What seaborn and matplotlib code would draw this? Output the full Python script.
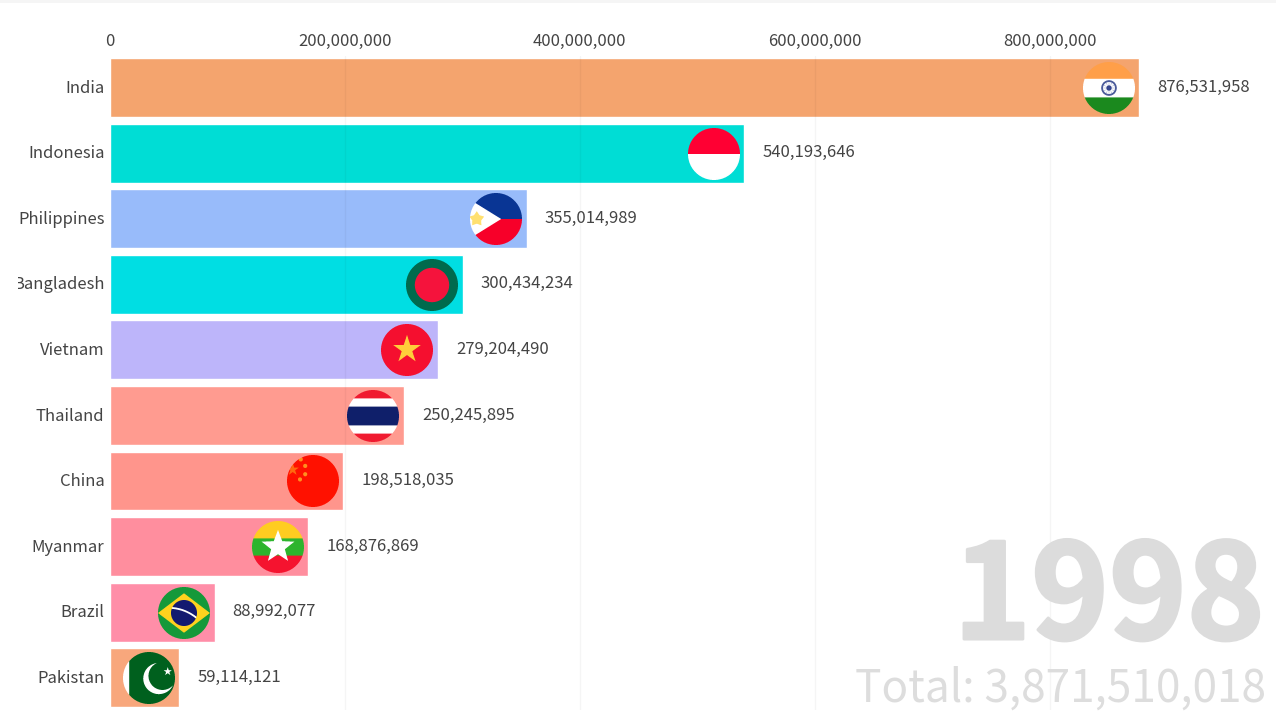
import numpy as np
import pandas as pd
import matplotlib
matplotlib.use("Agg")
import matplotlib.pyplot as plt
import matplotlib.patheffects as pe
from matplotlib.offsetbox import OffsetImage, AnnotationBbox
from matplotlib.patches import Rectangle
from matplotlib.ticker import FuncFormatter
from matplotlib.transforms import ScaledTranslation
import seaborn as sns

countries = ["India", "Indonesia", "Philippines", "Bangladesh", "Vietnam",
             "Thailand", "China", "Myanmar", "Brazil", "Pakistan"]
values = [876531958, 540193646, 355014989, 300434234, 279204490,
          250245895, 198518035, 168876869, 88992077, 59114121]
bar_colors = ["#F4A46E", "#00DDD5", "#98BBFA", "#00DEE3", "#BDB5FA",
              "#FF9B90", "#FF958C", "#FF8E9E", "#FF8EA8", "#F8A77C"]
x_ticks = [0, 200000000, 400000000, 600000000, 800000000]
year_label = "1998"
total_label = "Total: 3,871,510,018"

W, H = 1276, 720
FONT = ["Noto Sans CJK SC", "Noto Sans", "DejaVu Sans"]
TEXT = "#444444"
FLAG_PX = 52
SS = 5


def star(u, v, cx, cy, R, ratio=0.382):
    dx, dy = u - cx, v - cy
    rho = np.hypot(dx, dy)
    th = np.arctan2(dx, dy)
    sector = 2 * np.pi / 5
    th = np.abs((th + sector / 2) % sector - sector / 2)
    x, y = rho * np.cos(th), rho * np.sin(th)
    r = R * ratio
    ix, iy = r * np.cos(np.pi / 5), r * np.sin(np.pi / 5)
    return (x - R) * iy - y * (ix - R) <= 0


def paint(name, u, v):
    img = np.ones(u.shape + (3,))

    def fill(mask, col):
        img[mask] = matplotlib.colors.to_rgb(col)

    rho = np.hypot(u, v)
    if name == "India":
        fill(v > 0.35, "#FFA04A")
        fill(v < -0.36, "#1B8A1E")
        fill((rho < 0.3) & (rho > 0.23), "#4A5A9A")
        fill(rho < 0.1, "#2A3A88")
        ang = np.arctan2(v, u)
        fill((rho < 0.23) & (np.abs(((ang * 12 / np.pi) % 2) - 1) > 0.85), "#8490C0")
    elif name == "Indonesia":
        fill(v > 0, "#FF0033")
    elif name == "Philippines":
        fill(v > 0, "#0A3595")
        fill(v <= 0, "#F8002A")
        fill(np.abs(v) < 0.62 * (0.2 - u), "#FFFFFF")
        fill(star(u, v, -0.74, 0, 0.3, 0.6), "#FFE070")
    elif name == "Bangladesh":
        fill(np.ones_like(u, bool), "#006A4E")
        fill(rho < 0.66, "#F5143C")
    elif name == "Vietnam":
        fill(np.ones_like(u, bool), "#F5102F")
        fill(star(u, v, 0, 0.02, 0.56), "#FFCE3A")
    elif name == "Thailand":
        fill(np.abs(v) >= 0.68, "#F01A30")
        fill(np.abs(v) < 0.36, "#10206A")
    elif name == "China":
        fill(np.ones_like(u, bool), "#FF1200")
        fill(star(u, v, -0.78, 0.44, 0.25), "#FF6A10")
        for cx, cy in [(-0.3, 0.58), (-0.47, 0.83), (-0.3, 0.26), (-0.5, 0.06)]:
            fill(np.hypot(u - cx, v - cy) < 0.08, "#FF9020")
    elif name == "Myanmar":
        fill(v > 0.33, "#FFCC22")
        fill(np.abs(v) <= 0.33, "#2EB52E")
        fill(v < -0.33, "#F5142F")
        fill(star(u, v, 0, 0.0, 0.66, 0.42), "#FFFFFF")
    elif name == "Brazil":
        fill(np.ones_like(u, bool), "#169A3A")
        fill(np.abs(u) / 1.0 + np.abs(v) / 0.76 <= 1, "#FFD21F")
        fill(rho < 0.5, "#141A70")
        fill((rho < 0.5) & (np.abs(np.hypot(u + 0.6, v + 1.5) - 1.7) < 0.035), "#FFFFFF")
    elif name == "Pakistan":
        fill(u > -0.76, "#00601E")
        outer = np.hypot(u - 0.38, v + 0.02) < 0.6
        inner = np.hypot(u - 0.52, v - 0.08) < 0.54
        fill(outer & ~inner, "#FFFFFF")
        fill(star(u, v, 0.72, 0.25, 0.17), "#FFFFFF")
    return img


def flag_image(name):
    n = FLAG_PX * SS
    g = (np.arange(n) + 0.5) / n * 2 - 1
    u, vv = np.meshgrid(g, g)
    v = -vv
    rgb = paint(name, u, v)
    a = (np.hypot(u, v) <= 1).astype(float)
    pm = np.dstack([rgb * a[..., None], a])
    pm = pm.reshape(FLAG_PX, SS, FLAG_PX, SS, 4).mean(axis=(1, 3))
    alpha = pm[..., 3:]
    rgb_out = np.where(alpha > 0, pm[..., :3] / np.maximum(alpha, 1e-6), 1.0)
    return np.dstack([rgb_out, alpha])


df = pd.DataFrame({"country": countries, "value": values})

sns.set_theme(style="white")
plt.rcParams["font.family"] = FONT

fig = plt.figure(figsize=(W / 100, H / 100), dpi=100, facecolor="white")
ax_top, ax_bottom, ax_left = 56, 710, 110
ax = fig.add_axes([ax_left / W, 1 - ax_bottom / H, (W - ax_left) / W, (ax_bottom - ax_top) / H])

sns.barplot(data=df, x="value", y="country", hue="country", order=countries,
            hue_order=countries, palette=bar_colors, legend=False, saturation=1,
            width=0.9, ax=ax)

pitch = 65.55
row0 = 87.7
ax.set_ylim((ax_bottom - row0) / pitch, (ax_top - row0) / pitch)
px_per_unit = 1.1744e-6
ax.set_xlim(0, (W - ax_left) / px_per_unit)
ax.set_xlabel("")
ax.set_ylabel("")
for s in ax.spines.values():
    s.set_visible(False)

ax.xaxis.tick_top()
ax.set_xticks(x_ticks)
ax.xaxis.set_major_formatter(FuncFormatter(lambda x, _: f"{int(x):,}"))
ax.tick_params(axis="x", length=0, pad=4.5, labelsize=12, labelcolor=TEXT)
ax.tick_params(axis="y", length=0, pad=4, labelsize=12, labelcolor=TEXT)
ax.grid(axis="x", color="black", alpha=0.04, linewidth=1)
ax.set_axisbelow(False)
ax.xaxis.get_gridlines()[0].set_visible(False)

up = ScaledTranslation(0, 1.0 / 72, fig.dpi_scale_trans)
for lab in ax.get_yticklabels():
    lab.set_transform(lab.get_transform() + up)

for i, (name, val) in enumerate(zip(countries, values)):
    ax.annotate(f"{val:,}", xy=(val, i), xytext=(18 * 0.72, 0.3), textcoords="offset points",
                ha="left", va="center", fontsize=12, color=TEXT)
    box = AnnotationBbox(OffsetImage(flag_image(name), zoom=1, dpi_cor=False),
                         (val, i), xybox=(-30.5 * 0.72, -0.36), xycoords="data",
                         boxcoords="offset points", frameon=False, pad=0,
                         box_alignment=(0.5, 0.5), zorder=5)
    ax.add_artist(box)

fig.text(1265 / W, 1 - 639 / H, year_label, ha="right", va="baseline",
         fontsize=95, fontweight=900, color="#DCDCDC", zorder=1,
         path_effects=[pe.withStroke(linewidth=2.2, foreground="#DCDCDC")])
fig.text(1266 / W, 1 - 702 / H, total_label, ha="right", va="baseline",
         fontsize=31.8, color="#DDDDDD", zorder=1)

# the reference cuts the longest category label at its left edge
fig.add_artist(Rectangle((0, 0), 17.5 / W, 1, transform=fig.transFigure,
                         facecolor="white", edgecolor="none", zorder=10))
fig.add_artist(Rectangle((0, 1 - 3 / H), 1, 3 / H, transform=fig.transFigure,
                         facecolor="#F5F5F5", edgecolor="none", zorder=11))

fig.savefig("out.png", dpi=100, facecolor="white")
